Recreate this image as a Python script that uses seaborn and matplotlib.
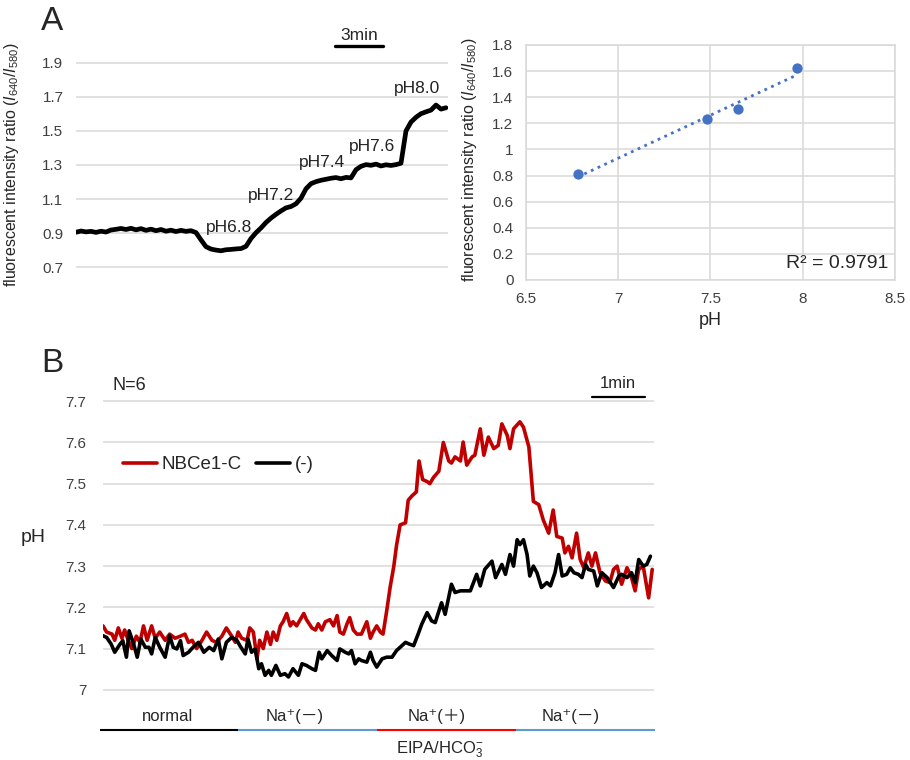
import numpy as np
import matplotlib
matplotlib.use("Agg")
import matplotlib.pyplot as plt
import matplotlib.transforms as mtransforms
from matplotlib.ticker import FuncFormatter
import seaborn as sns

# ---------------------------------------------------------------
# Panel A (left): ratio trace, one sample every 0.3125 min
# ---------------------------------------------------------------
ratio_a = [
    0.905, 0.912, 0.907, 0.910, 0.904, 0.911, 0.906, 0.918, 0.922, 0.927,
    0.921, 0.928, 0.919, 0.926, 0.916, 0.923, 0.914, 0.921, 0.911, 0.917,
    0.909, 0.916, 0.910, 0.914, 0.903, 0.860, 0.820, 0.806, 0.800, 0.796,
    0.802, 0.804, 0.807, 0.809, 0.822, 0.868, 0.902, 0.930, 0.962, 0.988,
    1.010, 1.030, 1.048, 1.056, 1.072, 1.105, 1.160, 1.190, 1.202, 1.210,
    1.216, 1.222, 1.226, 1.219, 1.227, 1.224, 1.272, 1.292, 1.302, 1.298,
    1.305, 1.294, 1.301, 1.297, 1.302, 1.310, 1.500, 1.552, 1.580, 1.601,
    1.612, 1.622, 1.652, 1.628, 1.636,
]
sample_min = 0.3125
ph_labels = ["pH6.8", "pH7.2", "pH7.4", "pH7.6", "pH8.0"]
ph_label_t = [9.56, 12.2, 15.4, 18.5, 21.3]
ph_label_v = [0.935, 1.122, 1.314, 1.41, 1.749]
ratio_ticks = [0.7, 0.9, 1.1, 1.3, 1.5, 1.7, 1.9]

# ---------------------------------------------------------------
# Panel A (right): calibration points
# ---------------------------------------------------------------
calib_ph = [6.78, 7.48, 7.65, 7.97]
calib_ratio = [0.81, 1.23, 1.31, 1.62]
calib_xticks = [6.5, 7, 7.5, 8, 8.5]
calib_yticks = [0, 0.2, 0.4, 0.6, 0.8, 1, 1.2, 1.4, 1.6, 1.8]

# ---------------------------------------------------------------
# Panel B: intracellular pH (time in s)
# ---------------------------------------------------------------
red_t = [0, 4, 10, 13, 17, 21, 24, 28, 32, 37, 41, 45, 49, 54, 58, 63, 69, 74, 80, 86,
         91, 95, 99, 104, 110, 115, 121, 126, 132, 137, 143, 147, 150, 154, 160, 163, 167, 171, 174, 178,
         182, 186, 189, 193, 197, 200, 204, 208, 211, 215, 219, 223, 226, 232, 236, 239, 243, 247, 252, 256,
         260, 263, 267, 271, 274, 278, 282, 287, 293, 297, 300, 304, 308, 311, 315, 319, 323, 326, 330, 336,
         339, 343, 348, 351, 355, 360, 363, 367, 373, 378, 384, 387, 391, 397, 400, 404, 410, 413, 419, 423,
         428, 434, 439, 443, 449, 452, 456, 463, 467, 473, 478, 484, 489, 495, 500, 504, 510, 513, 517, 521,
         526, 530, 534, 539, 543, 547, 552, 558, 563, 567, 571, 576, 582, 587, 591, 595, 600, 606, 610]
red_ph = [7.155, 7.14, 7.135, 7.12, 7.15, 7.125, 7.145, 7.12, 7.10, 7.13, 7.115, 7.155, 7.12, 7.155, 7.125, 7.14, 7.12, 7.135, 7.125, 7.13,
          7.135, 7.115, 7.12, 7.10, 7.12, 7.14, 7.12, 7.115, 7.13, 7.15, 7.13, 7.115, 7.14, 7.125, 7.12, 7.15, 7.14, 7.075, 7.12, 7.10,
          7.14, 7.11, 7.14, 7.12, 7.155, 7.165, 7.185, 7.155, 7.165, 7.155, 7.17, 7.185, 7.17, 7.15, 7.145, 7.16, 7.145, 7.165, 7.17, 7.155,
          7.18, 7.14, 7.135, 7.16, 7.175, 7.145, 7.135, 7.135, 7.165, 7.125, 7.14, 7.155, 7.14, 7.135, 7.19, 7.25, 7.30, 7.35, 7.40, 7.405,
          7.46, 7.47, 7.48, 7.555, 7.51, 7.505, 7.50, 7.515, 7.53, 7.60, 7.555, 7.55, 7.565, 7.555, 7.601, 7.545, 7.565, 7.569, 7.633, 7.569,
          7.613, 7.585, 7.593, 7.645, 7.617, 7.585, 7.633, 7.650, 7.637, 7.589, 7.457, 7.449, 7.412, 7.380, 7.436, 7.372, 7.368, 7.332, 7.348, 7.320,
          7.380, 7.316, 7.296, 7.332, 7.300, 7.332, 7.284, 7.264, 7.260, 7.292, 7.300, 7.256, 7.296, 7.272, 7.240, 7.292, 7.300, 7.223, 7.292]

blk_t = [0, 4, 9, 13, 19, 22, 26, 29, 34, 38, 42, 47, 51, 54, 58, 63, 69, 74, 78, 82,
         86, 89, 95, 100, 106, 112, 118, 123, 128, 132, 137, 143, 149, 152, 158, 161, 165, 169, 173, 176,
         180, 184, 187, 192, 197, 202, 206, 211, 217, 221, 226, 232, 236, 240, 243, 249, 254, 260, 263, 269,
         273, 276, 280, 284, 287, 293, 297, 300, 304, 310, 315, 321, 326, 330, 336, 340, 345, 350, 354, 360,
         365, 369, 376, 380, 387, 391, 397, 408, 415, 419, 424, 432, 436, 443, 447, 452, 456, 460, 463, 467,
         471, 474, 478, 482, 487, 493, 497, 502, 506, 510, 515, 519, 523, 528, 532, 536, 539, 545, 549, 554,
         560, 567, 573, 576, 582, 587, 591, 595, 600, 604, 608]
blk_ph = [7.131, 7.127, 7.111, 7.091, 7.111, 7.119, 7.079, 7.143, 7.111, 7.079, 7.123, 7.103, 7.103, 7.087, 7.127, 7.103, 7.079, 7.131, 7.103, 7.099,
          7.119, 7.083, 7.091, 7.103, 7.115, 7.091, 7.103, 7.095, 7.123, 7.075, 7.115, 7.127, 7.119, 7.107, 7.087, 7.123, 7.091, 7.099, 7.051, 7.063,
          7.035, 7.047, 7.035, 7.059, 7.035, 7.039, 7.031, 7.051, 7.035, 7.063, 7.059, 7.051, 7.047, 7.091, 7.075, 7.095, 7.083, 7.071, 7.099, 7.091,
          7.087, 7.095, 7.063, 7.075, 7.071, 7.067, 7.091, 7.071, 7.055, 7.075, 7.079, 7.079, 7.095, 7.103, 7.115, 7.111, 7.107, 7.135, 7.159, 7.187,
          7.167, 7.163, 7.211, 7.183, 7.256, 7.236, 7.240, 7.240, 7.280, 7.252, 7.292, 7.312, 7.272, 7.304, 7.280, 7.328, 7.300, 7.364, 7.352, 7.364,
          7.328, 7.276, 7.300, 7.284, 7.248, 7.260, 7.252, 7.284, 7.328, 7.276, 7.280, 7.296, 7.284, 7.280, 7.272, 7.304, 7.292, 7.288, 7.252, 7.284,
          7.272, 7.248, 7.276, 7.280, 7.272, 7.284, 7.260, 7.316, 7.300, 7.304, 7.324]

ph_ticks = [7.0, 7.1, 7.2, 7.3, 7.4, 7.5, 7.6, 7.7]
cond_labels = ["normal", "Na⁺(－)", "Na⁺(＋)", "Na⁺(－)"]
cond_label_t = [72, 213, 371, 520]
cond_bounds = [-3, 150, 304, 459, 613]
cond_colors = ["black", "#5B9BD5", "#FF0000", "#5B9BD5"]

# ---------------------------------------------------------------
# Style
# ---------------------------------------------------------------
sns.set_style("white")
plt.rcParams["font.family"] = ["Liberation Sans", "DejaVu Sans", "Noto Sans CJK JP"]
plt.rcParams["mathtext.fontset"] = "custom"
plt.rcParams["mathtext.rm"] = "Liberation Sans"
plt.rcParams["mathtext.it"] = "Liberation Sans:italic"
plt.rcParams["mathtext.bf"] = "Liberation Sans:bold"

GRID = "#D9D9D9"
TICK = "#404040"
BLUE = "#4472C4"
ylab = r"fluorescent intensity ratio ($I_{640}$/$I_{580}$)"
fmt_g = FuncFormatter(lambda v, p: f"{v:g}")

fig = plt.figure(figsize=(9.1, 7.6), dpi=100)

# -----------------------------
# A left: trace
# -----------------------------
ax_a = fig.add_axes([0.0835, 0.6474, 0.4088, 0.2711])
t_a = np.arange(len(ratio_a)) * sample_min
sns.lineplot(x=t_a, y=ratio_a, color="black", lw=3.4, estimator=None, ax=ax_a)
ax_a.set_xlim(0, 23.25)
ax_a.set_ylim(0.695, 1.905)
ax_a.set_yticks(ratio_ticks)
ax_a.yaxis.set_major_formatter(FuncFormatter(lambda v, p: f"{v:.1f}"))
ax_a.set_xticks([])
ax_a.yaxis.grid(True, color=GRID, lw=1.1)
for s in ax_a.spines.values():
    s.set_visible(False)
ax_a.tick_params(axis="y", length=0, labelsize=11, labelcolor=TICK, pad=9)
ax_a.set_ylabel(ylab, fontsize=11.5)
ax_a.yaxis.set_label_coords(-0.148, 0.5)
for lab, tt, vv in zip(ph_labels, ph_label_t, ph_label_v):
    ax_a.text(tt, vv, lab, ha="center", va="center", fontsize=12.5, color="#222222")
ax_a.plot([16.19, 19.19], [2.0, 2.0], color="black", lw=2.4, clip_on=False)
ax_a.text(17.69, 2.063, "3min", ha="center", va="center", fontsize=12.5)

# -----------------------------
# A right: calibration
# -----------------------------
ax_c = fig.add_axes([0.578, 0.6316, 0.4055, 0.3092])
sns.regplot(x=calib_ph, y=calib_ratio, ci=None, color=BLUE, ax=ax_c,
            scatter_kws={"s": 55, "alpha": 1, "linewidths": 0, "zorder": 3},
            line_kws={"ls": ":", "lw": 2})
ax_c.set_xlim(6.5, 8.5)
ax_c.set_ylim(0, 1.8)
ax_c.set_xticks(calib_xticks)
ax_c.set_yticks(calib_yticks)
ax_c.xaxis.set_major_formatter(fmt_g)
ax_c.yaxis.set_major_formatter(fmt_g)
ax_c.grid(True, color=GRID, lw=1.1)
for s in ax_c.spines.values():
    s.set_color(GRID)
    s.set_linewidth(1.1)
ax_c.tick_params(length=0, labelsize=11, labelcolor=TICK, pad=9)
ax_c.set_ylabel(ylab, fontsize=11.5)
ax_c.yaxis.set_label_coords(-0.128, 0.51)
ax_c.set_xlabel("pH", fontsize=13, labelpad=4)
ax_c.text(0.981, 0.072, "R² = 0.9791", transform=ax_c.transAxes,
          ha="right", va="center", fontsize=14)

# -----------------------------
# B: pH traces
# -----------------------------
ax_b = fig.add_axes([0.1132, 0.0908, 0.6055, 0.3829])
sns.lineplot(x=red_t, y=red_ph, color="#C00000", lw=2.6, estimator=None,
             label="NBCe1-C", ax=ax_b)
sns.lineplot(x=blk_t, y=blk_ph, color="black", lw=2.6, estimator=None,
             label="(-)", ax=ax_b)
ax_b.set_xlim(0, 612)
ax_b.set_ylim(6.997, 7.703)
ax_b.set_yticks(ph_ticks)
ax_b.yaxis.set_major_formatter(fmt_g)
ax_b.set_xticks([])
ax_b.yaxis.grid(True, color=GRID, lw=1.1)
for s in ax_b.spines.values():
    s.set_visible(False)
ax_b.tick_params(axis="y", length=0, labelsize=11, labelcolor=TICK, pad=12)
ax_b.set_ylabel("pH", fontsize=14, rotation=0, ha="center", va="center")
ax_b.yaxis.set_label_coords(-0.127, 0.529)
ax_b.legend(loc="center left", bbox_to_anchor=(0.036, 0.777), ncol=2,
            frameon=False, fontsize=13.5, handlelength=1.8, handletextpad=0.25,
            columnspacing=0.8, borderpad=0, borderaxespad=0)

ax_b.text(11, 7.737, "N=6", ha="left", va="center", fontsize=13)
ax_b.plot([543, 602], [7.711, 7.711], color="black", lw=1.6, clip_on=False)
ax_b.text(572, 7.743, "1min", ha="center", va="center", fontsize=12)

trans = mtransforms.blended_transform_factory(ax_b.transData, ax_b.transAxes)
for i, (lab, lt) in enumerate(zip(cond_labels, cond_label_t)):
    ax_b.plot([cond_bounds[i], cond_bounds[i + 1]], [-0.134, -0.134], color=cond_colors[i],
              lw=1.5, transform=trans, clip_on=False, solid_capstyle="butt")
    ax_b.text(lt, -0.089, lab, transform=trans, ha="center", va="center", fontsize=12)
ax_b.text(374, -0.203, r"EIPA/HCO$_3^{-}$", transform=trans, ha="center", va="center", fontsize=12)

# panel letters
fig.text(52 / 910, 1 - 21 / 760, "A", fontsize=24, ha="center", va="center")
fig.text(52 / 910, 1 - 363 / 760, "B", fontsize=24, ha="center", va="center")

plt.savefig("out.png", dpi=100)
plt.close()
